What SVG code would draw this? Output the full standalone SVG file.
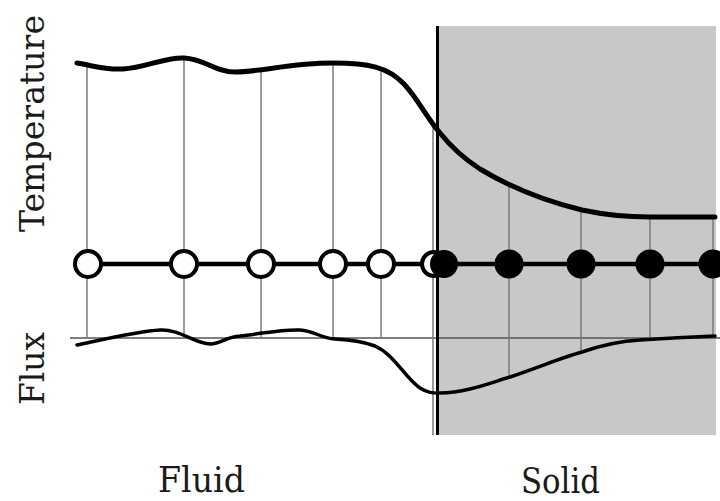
<svg xmlns="http://www.w3.org/2000/svg" width="720" height="501" viewBox="0 0 720 501">
  <style>
    .grid { stroke: #7a7a7a; stroke-width: 1.5; fill: none; }
    .axis { stroke: #555; stroke-width: 1.3; fill: none; }
    .curve { stroke: #000; fill: none; stroke-linecap: round; stroke-linejoin: round; }
    .open { fill: #fff; stroke: #000; stroke-width: 4; }
    .solid { fill: #000; stroke: none; }
    .label { font-family: "DejaVu Serif", "Liberation Serif", serif; font-size: 36px; fill: #1a1a1a; }
    .side { font-size: 34px; }
  </style>

  <rect width="720" height="501" fill="#fff"/>

  <!-- solid region -->
  <g id="solid-region">
    <rect x="437" y="26" width="279" height="409" fill="#c8c8c8"/>
  </g>

  <!-- grid lines -->
  <g id="grid">
    <line class="axis" x1="70" y1="338" x2="720" y2="338"/>
    <line class="grid" x1="87" y1="64" x2="87" y2="338"/>
    <line class="grid" x1="184" y1="58" x2="184" y2="338"/>
    <line class="grid" x1="261" y1="68" x2="261" y2="338"/>
    <line class="grid" x1="333" y1="63" x2="333" y2="338"/>
    <line class="grid" x1="381" y1="68" x2="381" y2="338"/>
    <line class="grid" x1="433" y1="125" x2="433" y2="435"/>
    <line class="grid" x1="509" y1="187" x2="509" y2="377"/>
    <line class="grid" x1="581" y1="210" x2="581" y2="353"/>
    <line class="grid" x1="650" y1="217" x2="650" y2="340"/>
    <line class="grid" x1="713" y1="217" x2="713" y2="336"/>
  </g>

  <!-- interface -->
  <g id="interface">
    <line x1="437.5" y1="26" x2="437.5" y2="435" stroke="#000" stroke-width="3"/>
  </g>

  <!-- curves and the node chain -->
  <g id="connectors">
    <path id="temperature-curve" class="curve" stroke-width="5"
      d="M77,63 C95,66 105,70 123,69 C145,68 165,57 184,58 C205,59 215,72 235,72 C260,72 290,63 333,63 C368,63 388,67 404,84 C418,99 427,118 440,133 C452,148 463,158 480,169 C505,184 540,200 582,210 C610,216 630,217 650,217 L715,217"/>
    <path id="flux-curve" class="curve" stroke-width="3.5"
      d="M77,345 C110,338 140,331 160,330 C180,329 195,344 210,344 C222,344 225,337 240,336 C265,333 285,329 300,330 C315,331 320,338 335,339 C350,340 362,341 375,346 C395,355 405,378 420,388 C428,393 432,393 440,393 C465,393 490,383 510,377 C540,367 560,358 582,352 C605,344 620,341 640,340 C670,338 690,337 715,336"/>
    <line id="chain" x1="87" y1="264" x2="715" y2="264" stroke="#000" stroke-width="4.5"/>
  </g>

  <!-- fluid nodes -->
  <g id="fluid-node-1"><circle class="open" cx="88" cy="264" r="13"/></g>
  <g id="fluid-node-2"><circle class="open" cx="184" cy="264" r="13"/></g>
  <g id="fluid-node-3"><circle class="open" cx="261" cy="264" r="13"/></g>
  <g id="fluid-node-4"><circle class="open" cx="333" cy="264" r="13"/></g>
  <g id="fluid-node-5"><circle class="open" cx="381" cy="264" r="13"/></g>
  <g id="fluid-node-6"><circle class="open" cx="434" cy="264" r="12"/></g>

  <!-- solid nodes -->
  <g id="solid-node-1"><circle class="solid" cx="444" cy="264" r="14"/></g>
  <g id="solid-node-2"><circle class="solid" cx="509" cy="264" r="14.5"/></g>
  <g id="solid-node-3"><circle class="solid" cx="581" cy="264" r="14.5"/></g>
  <g id="solid-node-4"><circle class="solid" cx="650" cy="264" r="14.5"/></g>
  <g id="solid-node-5"><circle class="solid" cx="713" cy="264" r="14.5"/></g>

  <!-- labels -->
  <g id="labels">
    <text class="label side" transform="translate(44,232) rotate(-90)" textLength="217" lengthAdjust="spacingAndGlyphs">Temperature</text>
    <text class="label side" transform="translate(44,405) rotate(-90)" textLength="73" lengthAdjust="spacingAndGlyphs">Flux</text>
    <text class="label" x="158" y="492" textLength="87" lengthAdjust="spacingAndGlyphs">Fluid</text>
    <text class="label" x="521" y="493" textLength="79" lengthAdjust="spacingAndGlyphs">Solid</text>
  </g>
</svg>
